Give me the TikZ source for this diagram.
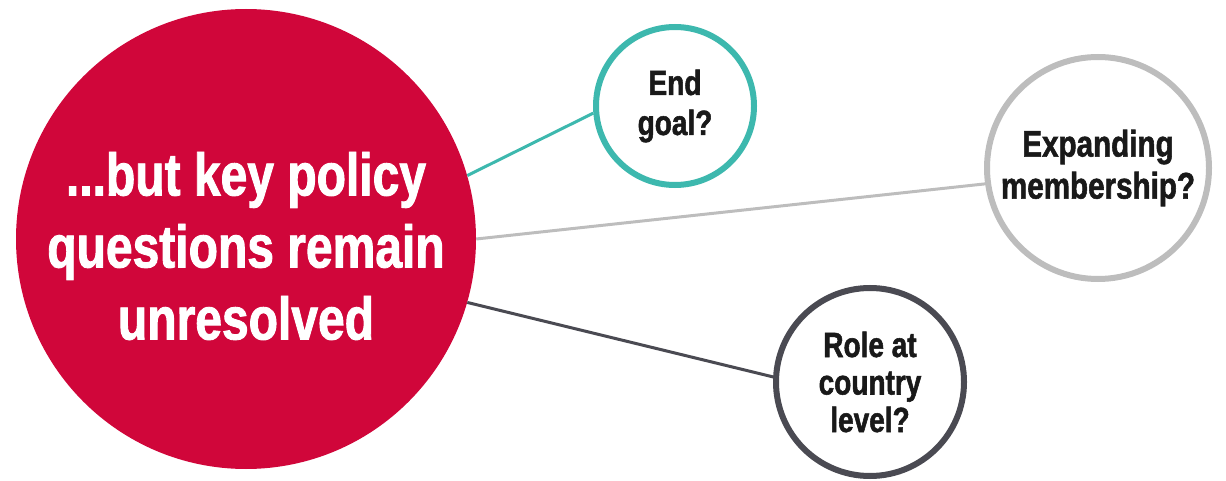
\documentclass[tikz,border=0pt]{standalone}
\usepackage{fontspec}
\setmainfont{Liberation Sans}[FakeStretch=0.8, BoldFeatures={FakeBold=1.5}]
\usepackage{xcolor}
\definecolor{policyred}{HTML}{D0063A}
\definecolor{goalteal}{HTML}{3DB8AE}
\definecolor{memgray}{HTML}{BDBDBD}
\definecolor{roledark}{HTML}{4A4A52}

\begin{document}
\begin{tikzpicture}[x=1pt, y=-1pt,
		question/.style={circle, draw, line width=6pt, fill=white, align=center, inner sep=0pt, font=\bfseries, text=black!90}]
			\useasboundingbox (0,0) rectangle (1226,481);

			% Big circle on the left
			\node[circle, fill=policyred, minimum size=460pt, inner sep=0pt] (policy) at (246,239) {};
			\node[align=center, text=white, font=\bfseries\fontsize{60}{72}\selectfont] (policytext) at (246,246)
				{...but key policy\\questions remain\\unresolved};

			% Questions on the right
			\node[question, draw=goalteal, minimum size=158pt, font=\bfseries\fontsize{35}{40}\selectfont] (goal) at (675,106) {End\\goal?};
			\node[question, draw=memgray, minimum size=222pt, font=\bfseries\fontsize{37}{42}\selectfont] (member) at (1098,168) {Expanding\\membership?};
			\node[question, draw=roledark, minimum size=188pt, font=\bfseries\fontsize{35}{37.5}\selectfont] (role) at (870,382) {Role at\\country\\level?};

			% Draw links
			\draw[goalteal, line width=3pt] (policy.16) -- (goal.185);
			\draw[memgray, line width=3pt] (policy.0) -- (member.188);
			\draw[roledark, line width=3pt] (policy.-16) -- (role.177);
		\end{tikzpicture}
\end{document}
